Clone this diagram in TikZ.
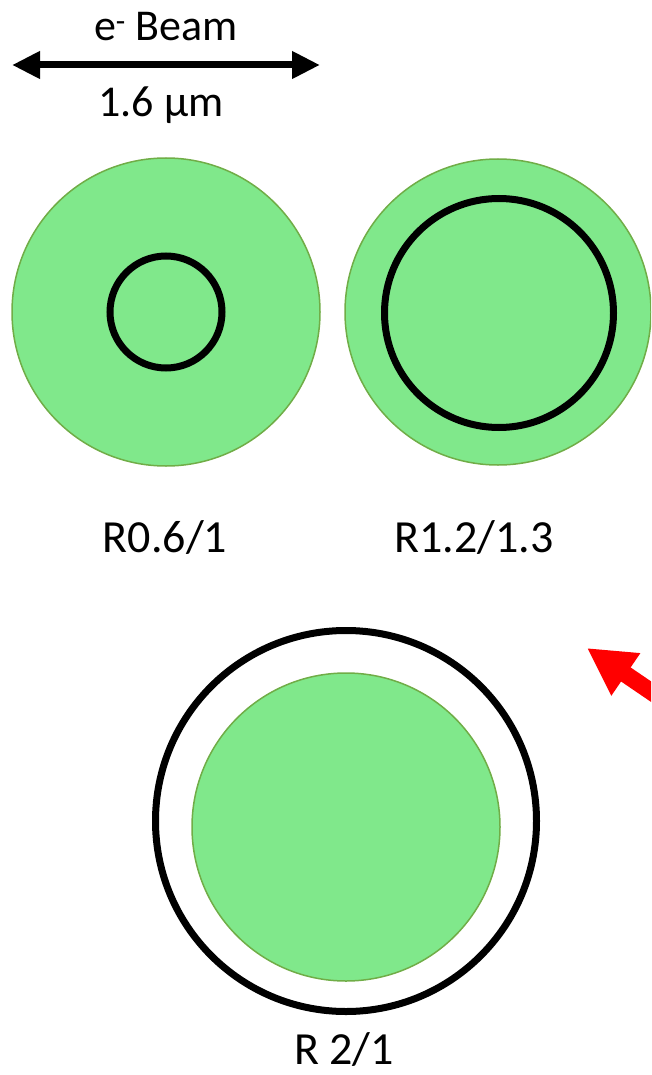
\documentclass[tikz,border=0pt]{standalone}
\usepackage{fontspec}
\setmainfont{Carlito}
\usetikzlibrary{arrows.meta}
\definecolor{fillgreen}{RGB}{128,232,139}
\definecolor{edgegreen}{RGB}{112,173,71}
\tikzset{
  disc/.style={circle, fill=fillgreen, draw=edgegreen, line width=1.5pt, inner sep=0pt},
  ring/.style={circle, draw=black, line width=7pt, inner sep=0pt},
  lbl/.style={font=\fontsize{44}{52}\selectfont, inner sep=0pt, anchor=base},
  biglbl/.style={font=\fontsize{46}{55}\selectfont, inner sep=0pt, anchor=base}
}
\begin{document}
\begin{tikzpicture}[x=1pt,y=-1pt]
\useasboundingbox (0,0) rectangle (651,1075);
\clip (0,0) rectangle (651,1075);
% top scale arrow
\coordinate (al) at (12,65);
\coordinate (ar) at (320,65);
\draw[line width=7pt, {Triangle[length=28pt,width=26pt]}-{Triangle[length=28pt,width=26pt]}] (al) -- (ar);
\node[lbl] (beam) at (166,41) {e\textsuperscript{-} Beam};
\node[lbl] (scale) at (161,117) {1.6 μm};
% circle 1
\node[disc, minimum size=308pt] (c1) at (166,312) {};
\node[ring, minimum size=112pt] (r1) at (166,312) {};
\node[biglbl] (l1) at (165,552) {R0.6/1};
% circle 2
\node[disc, minimum size=306pt] (c2) at (498,312) {};
\node[ring, minimum size=229pt] (r2) at (499,313) {};
\node[biglbl] (l2) at (474,552) {R1.2/1.3};
% circle 3
\node[ring, minimum size=381pt] (r3) at (346,821) {};
\node[disc, minimum size=308pt] (c3) at (346,827) {};
\node[biglbl] (l3) at (344,1064) {R 2/1};
% red arrow
\coordinate (rs) at (700,725);
\coordinate (rt) at (587,648);
\draw[red, line width=17pt, -{Triangle[length=47pt,width=48pt]}] (rs) -- (rt);
\end{tikzpicture}
\end{document}
